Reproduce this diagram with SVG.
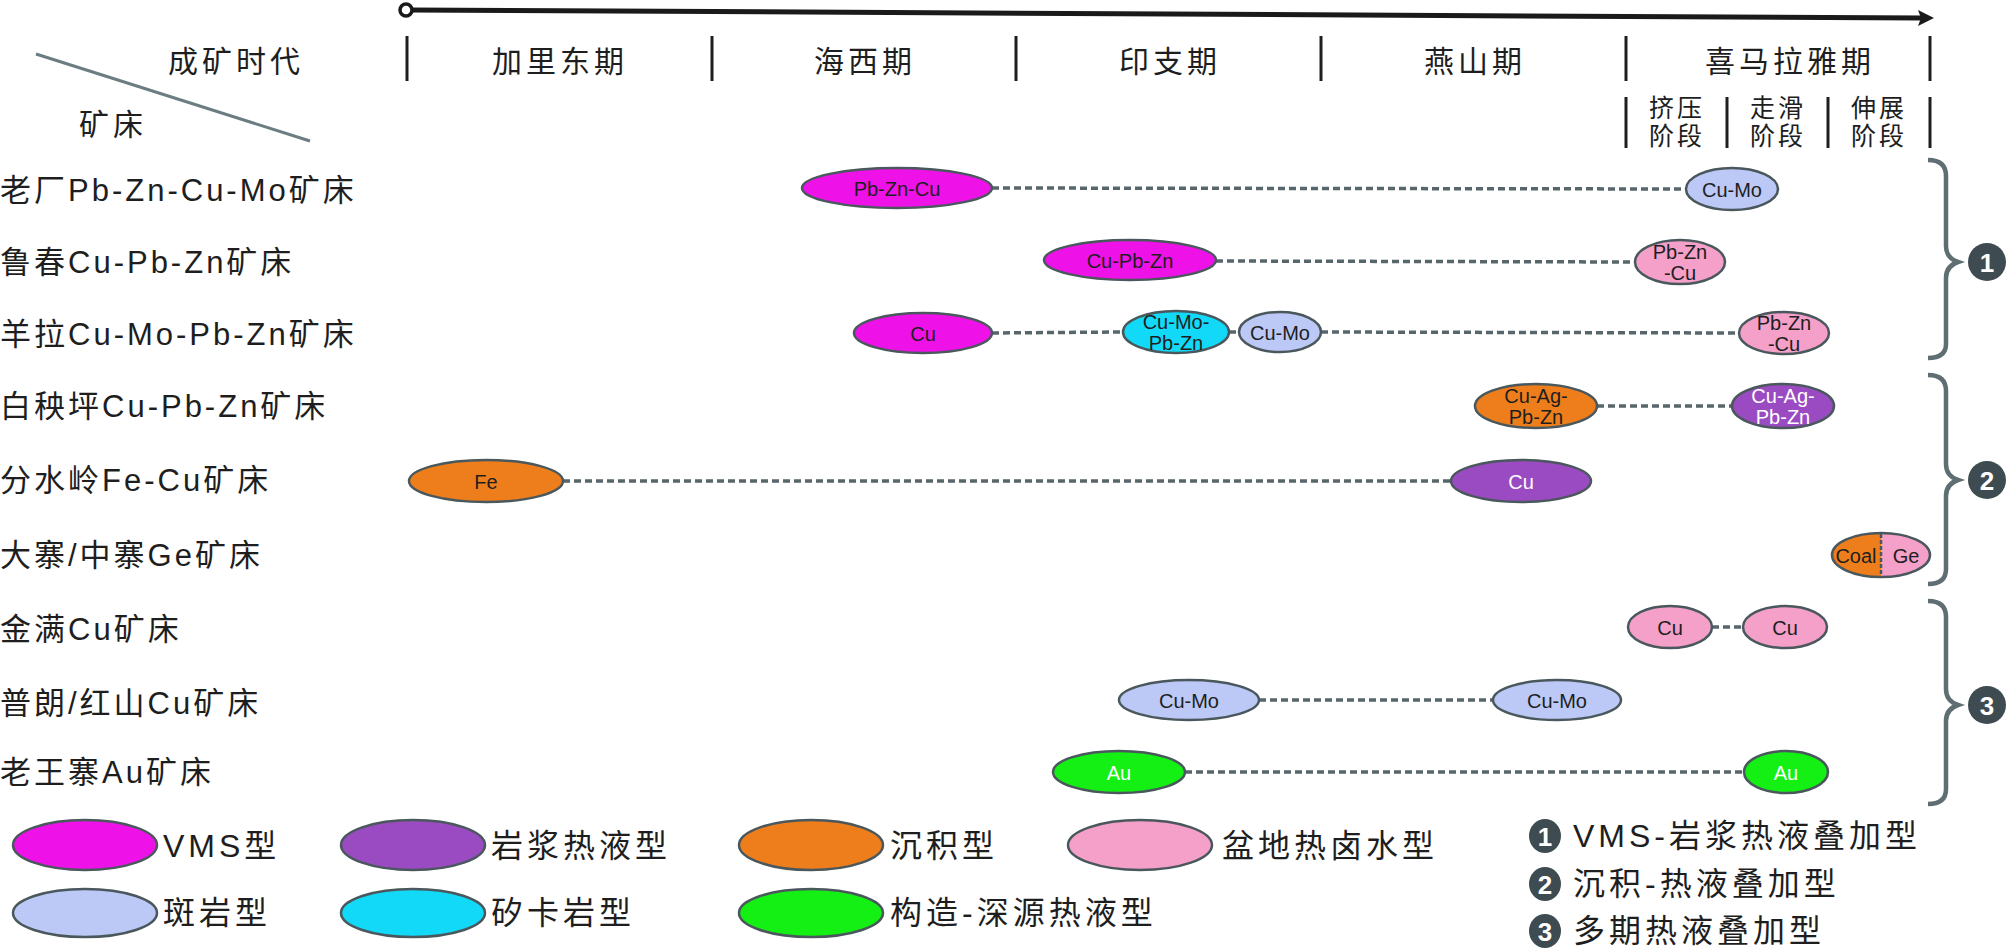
<svg xmlns="http://www.w3.org/2000/svg" width="2008" height="951" viewBox="0 0 2008 951">
<style>
text{font-family:"Liberation Sans","Noto Sans CJK SC",sans-serif;fill:#1e1e1e;dominant-baseline:central}
.hdr{font-size:30px;letter-spacing:4px;text-anchor:middle}
.sub{font-size:25px;letter-spacing:3px;text-anchor:middle}
.row{font-size:31px;letter-spacing:3px}
.lab{font-size:20px;text-anchor:middle}
.w{fill:#ffffff}
.leg{font-size:32px;letter-spacing:4px}
.num{font-size:26px;font-weight:bold;fill:#ffffff;text-anchor:middle}
.div{stroke:#1e1e1e;stroke-width:3}
.e{stroke:#4a585d;stroke-width:2.5}
.vms{fill:#ee12e8}.mag{fill:#9b4bc2}.sed{fill:#ee7e1c}.bas{fill:#f4a0c8}.por{fill:#bcc9f6}.skn{fill:#12d9f7}.str{fill:#14f014}
.dash{stroke:#56666b;stroke-width:3.5;stroke-dasharray:7 4;fill:none}
.brace{stroke:#5f6e72;stroke-width:4.5;fill:none}
.badge{fill:#3e4b50}
</style>

<g id="timeline">
  <line x1="410" y1="10" x2="1922" y2="18" stroke="#1a1a1a" stroke-width="5"/>
  <polygon points="1934,18 1918,10 1921,18 1918,26" fill="#1a1a1a"/>
  <circle cx="406" cy="10" r="6" fill="#ffffff" stroke="#1a1a1a" stroke-width="3.5"/>
</g>

<g id="header">
  <line x1="36" y1="54" x2="310" y2="141" stroke="#6b7d82" stroke-width="3"/>
  <text class="hdr" x="236" y="61">成矿时代</text>
  <text class="hdr" x="113" y="124">矿床</text>
  <line class="div" x1="407" y1="36" x2="407" y2="81"/>
  <line class="div" x1="712" y1="36" x2="712" y2="81"/>
  <line class="div" x1="1016" y1="36" x2="1016" y2="81"/>
  <line class="div" x1="1321" y1="36" x2="1321" y2="81"/>
  <line class="div" x1="1626" y1="36" x2="1626" y2="81"/>
  <line class="div" x1="1930" y1="36" x2="1930" y2="81"/>
  <text class="hdr" x="560" y="61">加里东期</text>
  <text class="hdr" x="865" y="61">海西期</text>
  <text class="hdr" x="1170" y="61">印支期</text>
  <text class="hdr" x="1475" y="61">燕山期</text>
  <text class="hdr" x="1790" y="61">喜马拉雅期</text>
  <line class="div" x1="1626" y1="97" x2="1626" y2="148"/>
  <line class="div" x1="1727" y1="97" x2="1727" y2="148"/>
  <line class="div" x1="1828" y1="97" x2="1828" y2="148"/>
  <line class="div" x1="1930" y1="97" x2="1930" y2="148"/>
  <text class="sub" x="1677" y="108">挤压</text>
  <text class="sub" x="1677" y="136">阶段</text>
  <text class="sub" x="1778" y="108">走滑</text>
  <text class="sub" x="1778" y="136">阶段</text>
  <text class="sub" x="1879" y="108">伸展</text>
  <text class="sub" x="1879" y="136">阶段</text>
</g>

<g id="deposits">
  <text class="row" x="0" y="190">老厂Pb-Zn-Cu-Mo矿床</text>
  <text class="row" x="0" y="262">鲁春Cu-Pb-Zn矿床</text>
  <text class="row" x="0" y="334">羊拉Cu-Mo-Pb-Zn矿床</text>
  <text class="row" x="0" y="406">白秧坪Cu-Pb-Zn矿床</text>
  <text class="row" x="0" y="480">分水岭Fe-Cu矿床</text>
  <text class="row" x="0" y="555">大寨/中寨Ge矿床</text>
  <text class="row" x="0" y="629">金满Cu矿床</text>
  <text class="row" x="0" y="703">普朗/红山Cu矿床</text>
  <text class="row" x="0" y="772">老王寨Au矿床</text>
</g>

<g id="connectors">
  <line class="dash" x1="992" y1="188" x2="1686" y2="189"/>
  <line class="dash" x1="1216" y1="261" x2="1635" y2="262"/>
  <line class="dash" x1="992" y1="333" x2="1123" y2="332"/>
  <line class="dash" x1="1229" y1="332" x2="1239" y2="332"/>
  <line class="dash" x1="1321" y1="332" x2="1739" y2="333"/>
  <line class="dash" x1="1597" y1="406" x2="1732" y2="406"/>
  <line class="dash" x1="563" y1="481" x2="1451" y2="481"/>
  <line class="dash" x1="1712" y1="627" x2="1743" y2="627"/>
  <line class="dash" x1="1259" y1="700" x2="1493" y2="700"/>
  <line class="dash" x1="1185" y1="772" x2="1744" y2="772"/>
</g>

<g id="n-laochang-1"><ellipse class="e vms" cx="897" cy="188" rx="95" ry="20"/><text class="lab" x="897" y="189">Pb-Zn-Cu</text></g>
<g id="n-laochang-2"><ellipse class="e por" cx="1732" cy="189" rx="46" ry="21"/><text class="lab" x="1732" y="190">Cu-Mo</text></g>

<g id="n-luchun-1"><ellipse class="e vms" cx="1130" cy="260" rx="86" ry="20"/><text class="lab" x="1130" y="261">Cu-Pb-Zn</text></g>
<g id="n-luchun-2"><ellipse class="e bas" cx="1680" cy="262" rx="45" ry="22"/><text class="lab" x="1680" y="252">Pb-Zn</text><text class="lab" x="1680" y="273">-Cu</text></g>

<g id="n-yangla-1"><ellipse class="e vms" cx="923" cy="333" rx="69" ry="20"/><text class="lab" x="923" y="334">Cu</text></g>
<g id="n-yangla-2"><ellipse class="e skn" cx="1176" cy="332" rx="53" ry="21"/><text class="lab" x="1176" y="322">Cu-Mo-</text><text class="lab" x="1176" y="343">Pb-Zn</text></g>
<g id="n-yangla-3"><ellipse class="e por" cx="1280" cy="332" rx="41" ry="20"/><text class="lab" x="1280" y="333">Cu-Mo</text></g>
<g id="n-yangla-4"><ellipse class="e bas" cx="1784" cy="333" rx="45" ry="21"/><text class="lab" x="1784" y="323">Pb-Zn</text><text class="lab" x="1784" y="344">-Cu</text></g>

<g id="n-baiyangping-1"><ellipse class="e sed" cx="1536" cy="406" rx="61" ry="22"/><text class="lab" x="1536" y="396">Cu-Ag-</text><text class="lab" x="1536" y="417">Pb-Zn</text></g>
<g id="n-baiyangping-2"><ellipse class="e mag" cx="1783" cy="406" rx="51" ry="22"/><text class="lab w" x="1783" y="396">Cu-Ag-</text><text class="lab w" x="1783" y="417">Pb-Zn</text></g>

<g id="n-fenshuiling-1"><ellipse class="e sed" cx="486" cy="481" rx="77" ry="21"/><text class="lab" x="486" y="482">Fe</text></g>
<g id="n-fenshuiling-2"><ellipse class="e mag" cx="1521" cy="481" rx="70" ry="21"/><text class="lab w" x="1521" y="482">Cu</text></g>

<g id="n-dazhai">
  <path class="sed" d="M1881,533 A49,22 0 0 0 1881,577 Z"/>
  <path class="bas" d="M1881,533 A49,22 0 0 1 1881,577 Z"/>
  <ellipse class="e" cx="1881" cy="555" rx="49" ry="22" fill="none"/>
  <line x1="1881" y1="534" x2="1881" y2="576" stroke="#4a585d" stroke-width="2.5" stroke-dasharray="4 2"/>
  <text class="lab" x="1856" y="556">Coal</text><text class="lab" x="1906" y="556">Ge</text>
</g>

<g id="n-jinman-1"><ellipse class="e bas" cx="1670" cy="627" rx="42" ry="21"/><text class="lab" x="1670" y="628">Cu</text></g>
<g id="n-jinman-2"><ellipse class="e bas" cx="1785" cy="627" rx="42" ry="21"/><text class="lab" x="1785" y="628">Cu</text></g>

<g id="n-pulang-1"><ellipse class="e por" cx="1189" cy="700" rx="70" ry="20"/><text class="lab" x="1189" y="701">Cu-Mo</text></g>
<g id="n-pulang-2"><ellipse class="e por" cx="1557" cy="700" rx="64" ry="20"/><text class="lab" x="1557" y="701">Cu-Mo</text></g>

<g id="n-laowangzhai-1"><ellipse class="e str" cx="1119" cy="772" rx="66" ry="21"/><text class="lab w" x="1119" y="773">Au</text></g>
<g id="n-laowangzhai-2"><ellipse class="e str" cx="1786" cy="772" rx="42" ry="21"/><text class="lab w" x="1786" y="773">Au</text></g>

<g id="braces">
  <path class="brace" d="M1928,160 Q1946,160 1946,176 L1946,246 Q1946,258 1958,262 Q1946,266 1946,278 L1946,344 Q1946,358 1928,358"/>
  <path class="brace" d="M1928,375 Q1946,375 1946,391 L1946,464 Q1946,476 1958,480 Q1946,484 1946,496 L1946,569 Q1946,584 1928,584"/>
  <path class="brace" d="M1928,601 Q1946,601 1946,617 L1946,689 Q1946,701 1958,705 Q1946,709 1946,721 L1946,789 Q1946,804 1928,804"/>
  <g id="badge-1"><circle class="badge" cx="1987" cy="262" r="19"/><text class="num" x="1987" y="263">1</text></g>
  <g id="badge-2"><circle class="badge" cx="1987" cy="480" r="19"/><text class="num" x="1987" y="481">2</text></g>
  <g id="badge-3"><circle class="badge" cx="1987" cy="705" r="19"/><text class="num" x="1987" y="706">3</text></g>
</g>

<g id="legend">
  <g id="leg-vms"><ellipse class="e vms" cx="85" cy="845" rx="72" ry="25"/><text class="leg" x="163" y="846">VMS型</text></g>
  <g id="leg-mag"><ellipse class="e mag" cx="413" cy="845" rx="72" ry="25"/><text class="leg" x="491" y="846">岩浆热液型</text></g>
  <g id="leg-sed"><ellipse class="e sed" cx="811" cy="845" rx="72" ry="25"/><text class="leg" x="890" y="846">沉积型</text></g>
  <g id="leg-bas"><ellipse class="e bas" cx="1140" cy="845" rx="72" ry="25"/><text class="leg" x="1222" y="846">盆地热卤水型</text></g>
  <g id="leg-por"><ellipse class="e por" cx="85" cy="913" rx="72" ry="24"/><text class="leg" x="163" y="913">斑岩型</text></g>
  <g id="leg-skn"><ellipse class="e skn" cx="413" cy="913" rx="72" ry="24"/><text class="leg" x="491" y="913">矽卡岩型</text></g>
  <g id="leg-str"><ellipse class="e str" cx="811" cy="913" rx="72" ry="24"/><text class="leg" x="890" y="913">构造-深源热液型</text></g>
  <g id="leg-1"><ellipse class="badge" cx="1545" cy="836" rx="16" ry="17"/><text class="num" x="1545" y="837">1</text><text class="leg" x="1573" y="836">VMS-岩浆热液叠加型</text></g>
  <g id="leg-2"><ellipse class="badge" cx="1545" cy="884" rx="16" ry="17"/><text class="num" x="1545" y="885">2</text><text class="leg" x="1573" y="884">沉积-热液叠加型</text></g>
  <g id="leg-3"><ellipse class="badge" cx="1545" cy="931" rx="16" ry="17"/><text class="num" x="1545" y="932">3</text><text class="leg" x="1573" y="931">多期热液叠加型</text></g>
</g>
</svg>
